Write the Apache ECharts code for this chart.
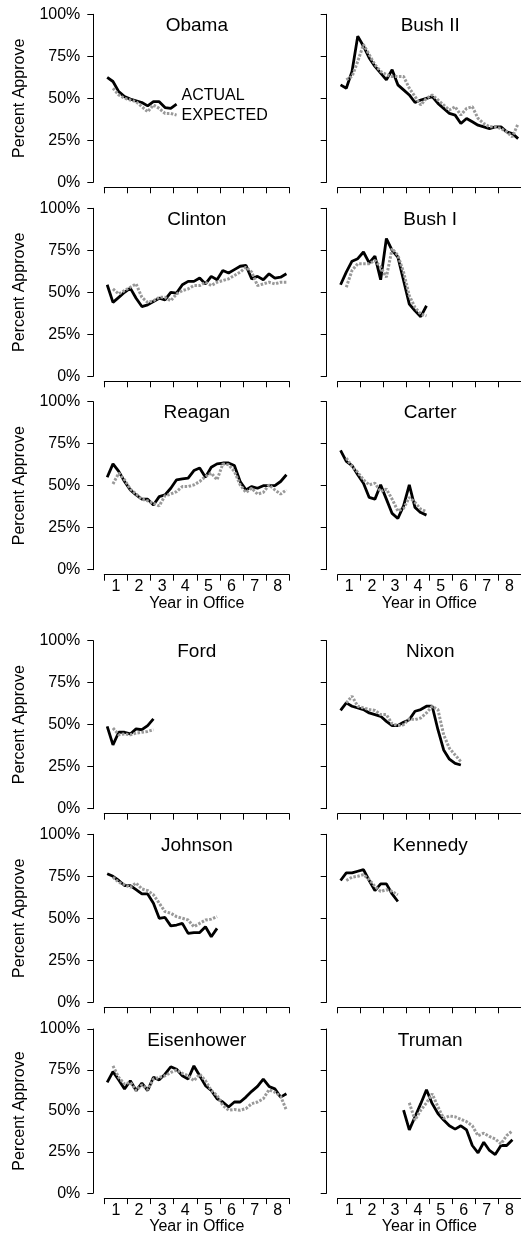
<!DOCTYPE html>
<html lang="en">
<head>
  <meta charset="UTF-8">
  <title>Presidential approval: actual vs expected</title>
  <script src="https://cdn.jsdelivr.net/npm/echarts@6.0.0/dist/echarts.min.js"></script>
  <style>
    html, body { margin: 0; padding: 0; background: #fff; }
    #chart { width: 521px; height: 1236px; }
  </style>
</head>
<body>
  <div id="chart"></div>

  <script>
    // x axis: ticks at year boundaries, labels mid-year
    const years = ['1', '2', '3', '4', '5', '6', '7', '8'];

    // panels, left to right, top to bottom
    const presidents = ['Obama', 'Bush II', 'Clinton', 'Bush I', 'Reagan', 'Carter',
                        'Ford', 'Nixon', 'Johnson', 'Kennedy', 'Eisenhower', 'Truman'];
    // first quarter in office with data
    const startQuarter = [0, 0, 0, 0, 0, 0, 0, 0, 0, 0, 0, 11];

    // quarterly approval (%), expected series begins one quarter later
    const obamaActual = [62.5, 60, 54, 51, 49.5, 48.5, 47.5, 45.5, 48, 48, 44.5, 44, 46.5];
    const obamaExpected = [null, 56, 52, 50, 49, 48, 45, 42, 46, 44, 41, 41, 40];

    const bush2Actual = [58, 56, 66, 87, 81, 74, 69, 65, 61, 67, 58, 55, 52, 47.5, 49, 50,
                         51, 47, 44, 41, 40, 35, 38, 36, 34, 33, 32, 33, 33, 30, 29, 26];
    const bush2Expected = [null, 61, 63, 72, 82, 76, 70, 66, 64, 63, 63, 63, 56, 51, 46, 50,
                           52, 49, 46, 43, 45, 40, 44, 45, 38, 35, 33, 33, 32, 30, 27, 35];

    const clintonActual = [54.5, 44, 47, 50, 52.5, 46.5, 41.5, 42.5, 44.5, 46.5, 45.5, 50, 49.5, 54.5, 56.5, 56.5,
                           58.5, 55, 59.5, 57.5, 63, 61.5, 63.5, 65.5, 66, 58, 59.5, 57.5, 61, 58.5, 59, 61];
    const clintonExpected = [null, 52, 49, 51, 53, 55, 47, 44, 45, 47, 47, 45, 49, 51, 52, 54,
                             54, 56, 54, 56, 57, 58, 60, 62, 65, 62, 54, 55, 56, 55, 56, 56];

    const bush1Actual = [54.5, 62, 68.5, 70, 74, 67.5, 71.5, 57.5, 82, 75, 71, 57, 43, 39, 35.5, 42];
    const bush1Expected = [null, 53, 63, 67, 67, 67, 69, 65, 59, 76, 72, 62, 48, 41, 37, 36];

    const reaganActual = [55, 63, 58.5, 52.5, 47.5, 44.5, 42, 42, 38.5, 43.5, 44.5, 48.5, 53.5, 54, 54.5, 59,
                          60.5, 55, 61, 63, 63.5, 63.5, 62, 52.5, 47.5, 49.5, 48.5, 50, 50, 50, 52.5, 56.5];
    const reaganExpected = [null, 51, 57.5, 53.5, 48, 45, 42, 41, 39.5, 38, 44, 45, 46.5, 49.5, 49.5, 50.5,
                            52.5, 55.5, 57.5, 53.5, 63, 62.5, 58.5, 50.5, 46, 48.5, 45, 46, 50.5, 47.5, 45, 47.5];

    const carterActual = [71, 64.5, 62, 56.5, 51.5, 43, 42, 50.5, 42, 33.5, 30.5, 38, 50.5, 37, 34, 32.5];
    const carterExpected = [null, 66.5, 61.5, 58, 53.5, 50.5, 51.5, 46.5, 48, 42, 35, 36.5, 43, 40, 36, 34.5];

    const fordActual = [49, 38, 45.5, 45.5, 44.5, 47.5, 47, 49.5, 53.5];
    const fordExpected = [null, 48, 44, 44.5, 44, 45, 45.5, 46, 47];

    const nixonActual = [58.5, 63, 61, 60, 59, 57, 56, 55, 52, 49.5, 49.5, 51.5, 53, 58, 59, 61,
                         61, 47, 35, 29.5, 27, 26];
    const nixonExpected = [null, 63, 67, 61, 60, 59, 58.5, 56, 56, 50.5, 49.5, 50, 53.5, 53, 54, 57,
                           61, 59, 44, 36, 32, 28];

    const johnsonActual = [76.5, 75, 72.5, 69.5, 69.5, 67, 64.5, 64.5, 59, 50, 50.5, 45.5, 46, 47, 41, 41.5,
                           41.5, 45, 39, 44];
    const johnsonExpected = [null, 74.5, 71.5, 70, 68.5, 71, 67.5, 66.5, 64, 59, 54, 53, 51, 50, 49, 45,
                             47, 49, 49.5, 51];

    const kennedyActual = [72.5, 77, 77, 78, 79, 72.5, 66.5, 70.5, 70.5, 64.5, 60];
    const kennedyExpected = [null, 72.5, 74.5, 75, 76, 73, 69, 66, 67, 66, 64];

    const eisenhowerActual = [67.5, 74, 69, 63.5, 68.5, 62.5, 67, 62.5, 70.5, 69, 72.5, 77, 75.5, 71.5, 69.5, 77.5,
                              71.5, 65.5, 62.5, 57.5, 55.5, 52.5, 55.5, 55.5, 58.5, 62, 65, 69.5, 65, 63.5, 58.5, 60.5];
    const eisenhowerExpected = [null, 77.5, 70.5, 66.5, 67.5, 62.5, 66, 63, 69.5, 70.5, 71.5, 73.5, 75, 73, 71.5, 68.5,
                                72.5, 68.5, 62.5, 59.5, 53.5, 50.5, 51, 50.5, 51.5, 54.5, 55.5, 57.5, 63, 61.5, 59, 50.5];

    const trumanActual = [50.5, 38.5, 46.5, 54.5, 63, 54.5, 48.5, 44.5, 41, 39, 41, 38.5, 29, 24.5, 31, 26,
                          23.5, 29, 29, 32.5];
    const trumanExpected = [null, 55, 44.5, 50.5, 55, 60.5, 52.5, 45.5, 47, 46.5, 45, 43.5, 41, 35, 36.5, 34.5,
                            33, 30, 35, 38];

    const actual = [obamaActual, bush2Actual, clintonActual, bush1Actual, reaganActual, carterActual,
                    fordActual, nixonActual, johnsonActual, kennedyActual, eisenhowerActual, trumanActual];
    const expected = [obamaExpected, bush2Expected, clintonExpected, bush1Expected, reaganExpected, carterExpected,
                      fordExpected, nixonExpected, johnsonExpected, kennedyExpected, eisenhowerExpected, trumanExpected];

    // layout
    const FONT = "'Liberation Sans', Arial, sans-serif";
    const colLeft = [104.3, 337.7];
    const plotW = 185;
    const rowTop = [14.3, 208.3, 401.7, 640.7, 834.3, 1029];
    const plotH = 168;
    const labelRows = [2, 5]; // rows with year labels

    const chart = echarts.init(document.getElementById('chart'));

    // quarter index -> [x, y] with point at middle of the quarter
    function toPoints(values, start) {
      const pts = [];
      values.forEach((v, i) => {
        if (v !== null) pts.push([start + i + 0.5, v]);
      });
      return pts;
    }

    const grid = [], xAxis = [], yAxis = [], series = [], title = [];

    presidents.forEach((name, i) => {
      const row = Math.floor(i / 2);
      const col = i % 2;
      const showYears = labelRows.includes(row);

      grid.push({ left: colLeft[col], top: rowTop[row], width: plotW, height: plotH });

      title.push({
        text: name,
        left: colLeft[col] + plotW / 2,
        top: rowTop[row] + 2,
        textAlign: 'center',
        padding: 0,
        textStyle: { fontFamily: FONT, fontSize: 19, fontWeight: 'normal', color: '#000' }
      });

      // visible year axis
      xAxis.push({
        type: 'category',
        gridIndex: i,
        data: years,
        boundaryGap: true,
        position: 'bottom',
        offset: 5,
        axisLine: { show: true, onZero: false, lineStyle: { color: '#000', width: 1 } },
        axisTick: { show: true, length: 6, interval: 0, lineStyle: { color: '#000' } },
        axisLabel: { show: showYears, interval: 0, margin: 4, color: '#000', fontSize: 16, fontFamily: FONT },
        splitLine: { show: false },
        name: showYears ? 'Year in Office' : '',
        nameLocation: 'middle',
        nameGap: 18,
        nameTextStyle: { color: '#000', fontSize: 16, fontFamily: FONT }
      });
      // hidden quarter axis for the data
      xAxis.push({ type: 'value', gridIndex: i, min: 0, max: 32, position: 'top', show: false,
                   axisLine: { onZero: false } });

      yAxis.push({
        type: 'value',
        gridIndex: i,
        min: 0,
        max: 100,
        interval: 25,
        offset: 11,
        axisLine: { show: true, onZero: false, lineStyle: { color: '#000', width: 1 } },
        axisTick: { show: true, length: 6, lineStyle: { color: '#000' } },
        axisLabel: { show: col === 0, formatter: '{value}%', margin: 13, color: '#000', fontSize: 16, fontFamily: FONT },
        splitLine: { show: false },
        name: col === 0 ? 'Percent Approve' : '',
        nameLocation: 'middle',
        nameGap: 66,
        nameTextStyle: { color: '#000', fontSize: 16, fontFamily: FONT }
      });

      const isLegendPanel = i === 0;

      series.push({
        name: name + ' actual',
        type: 'line',
        xAxisIndex: 2 * i + 1,
        yAxisIndex: i,
        data: toPoints(actual[i], startQuarter[i]),
        symbol: 'none',
        lineStyle: { color: '#000', width: 2.8 },
        endLabel: isLegendPanel ? {
          show: true, formatter: 'ACTUAL', distance: 5, offset: [0, -9],
          color: '#000', fontSize: 16, fontFamily: FONT
        } : { show: false }
      });
      series.push({
        name: name + ' expected',
        type: 'line',
        xAxisIndex: 2 * i + 1,
        yAxisIndex: i,
        data: toPoints(expected[i], startQuarter[i]),
        symbol: 'none',
        lineStyle: { color: '#999', width: 3, type: [2.5, 1.5] },
        endLabel: isLegendPanel ? {
          show: true, formatter: 'EXPECTED', distance: 5,
          color: '#000', fontSize: 16, fontFamily: FONT
        } : { show: false }
      });
    });

    chart.setOption({
      animation: false,
      backgroundColor: '#fff',
      title: title,
      grid: grid,
      xAxis: xAxis,
      yAxis: yAxis,
      series: series
    });

    window.addEventListener('resize', function () {
      chart.resize();
    });
  </script>
</body>
</html>
